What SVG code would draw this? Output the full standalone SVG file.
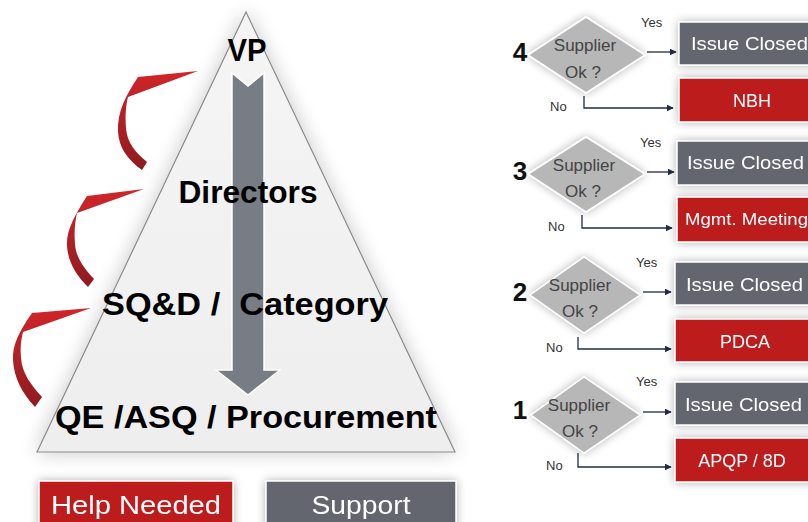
<svg xmlns="http://www.w3.org/2000/svg" width="808" height="522" viewBox="0 0 808 522">
<defs>
<style>
.big{font-family:"Liberation Sans",Arial,sans-serif;font-weight:bold;fill:#000;text-anchor:middle;white-space:pre}
.lbl{font-family:"Liberation Sans",Arial,sans-serif;fill:#fff;text-anchor:middle}
.dtxt{font-family:"Liberation Sans",Arial,sans-serif;font-size:17px;fill:#444;text-anchor:middle}
.sm{font-family:"Liberation Sans",Arial,sans-serif;font-size:13px;fill:#333}
.num{font-family:"Liberation Sans",Arial,sans-serif;font-weight:bold;font-size:26px;fill:#111;text-anchor:middle}
.gbox{fill:#63666e;stroke:#fff;stroke-width:1.5}
.rbox{fill:#bd1c1f;stroke:#fff;stroke-width:1.5}
.dia{fill:#b7b7b7;stroke:#fff;stroke-width:1.5}
.con{fill:none;stroke:#1f2b47;stroke-width:1.3}
.rib{fill:url(#redg)}
</style>
<linearGradient id="redg" x1="0" y1="0" x2="0" y2="1">
<stop offset="0" stop-color="#d0262a"/>
<stop offset="1" stop-color="#8f1b1f"/>
</linearGradient>
<linearGradient id="trig" x1="0" y1="0" x2="0" y2="1">
<stop offset="0" stop-color="#f5f5f5"/>
<stop offset="1" stop-color="#eeeeee"/>
</linearGradient>
<filter id="glow" x="-20%" y="-20%" width="140%" height="140%">
<feGaussianBlur in="SourceAlpha" stdDeviation="10"/>
<feComponentTransfer><feFuncA type="linear" slope="0.22"/></feComponentTransfer>
<feMerge><feMergeNode/><feMergeNode in="SourceGraphic"/></feMerge>
</filter>
<filter id="sh" x="-20%" y="-30%" width="140%" height="160%">
<feGaussianBlur in="SourceAlpha" stdDeviation="5"/>
<feComponentTransfer><feFuncA type="linear" slope="0.3"/></feComponentTransfer>
<feMerge><feMergeNode/><feMergeNode in="SourceGraphic"/></feMerge>
</filter>
<marker id="ah" viewBox="0 0 10 10" refX="9" refY="5" markerWidth="7" markerHeight="7" markerUnits="userSpaceOnUse" orient="auto">
<path d="M0,0 L10,5 L0,10 Z" fill="#1f2b47"/>
</marker>
</defs>
<rect width="808" height="522" fill="#fff"/>

<g id="pyramid">
<polygon points="246,12 455,452 37,452" fill="url(#trig)" stroke="#8a8a8a" stroke-width="1.2" filter="url(#glow)"/>
<polygon points="232,73 248,86 264,73 264,370 280,370 248,395 216,370 232,370" fill="#787c85" stroke="#fff" stroke-width="1.5"/>
<text class="big" x="247" y="61" font-size="31" textLength="39" lengthAdjust="spacingAndGlyphs">VP</text>
<text class="big" x="248" y="203" font-size="31" textLength="139" lengthAdjust="spacingAndGlyphs">Directors</text>
<text class="big" x="245" y="315" font-size="31" textLength="286" lengthAdjust="spacingAndGlyphs">SQ&amp;D /  Category</text>
<text class="big" x="246" y="428" font-size="31" textLength="382" lengthAdjust="spacingAndGlyphs">QE /ASQ / Procurement</text>
</g>

<g id="ribbons">
<path class="rib" d="M198,71 L138,77 C126,95 117,112 118,132 C119,148 128,160 142,170 L147,162 C136,153 127,143 126,128 C125,115 126,105 128,97 Z"/>
<path class="rib" d="M144,189 L87,196 C75,215 66,230 67,246 C68,262 76,275 88,287 L94,279 C84,268 76,258 75,244 C74,232 75,222 77,213 Z"/>
<path class="rib" d="M91,308 L32,313 C20,330 12,345 13,360 C14,378 22,393 35,407 L42,397 C31,385 22,373 21,358 C20,348 21,340 23,332 Z"/>
</g>

<g id="help-needed" filter="url(#sh)">
<rect class="rbox" x="39" y="481" width="194" height="50"/>
<text class="lbl" x="136" y="514" font-size="26" textLength="170" lengthAdjust="spacingAndGlyphs">Help Needed</text>
</g>
<g id="support" filter="url(#sh)">
<rect class="gbox" x="266" y="481" width="190" height="50"/>
<text class="lbl" x="361" y="514" font-size="26" textLength="99" lengthAdjust="spacingAndGlyphs">Support</text>
</g>

<g id="connectors">
<line class="con" x1="647" y1="52" x2="676" y2="52" marker-end="url(#ah)"/>
<polyline class="con" points="584,96 584,108 673,108" marker-end="url(#ah)"/>
<line class="con" x1="647" y1="172" x2="674" y2="172" marker-end="url(#ah)"/>
<polyline class="con" points="582,215 582,228 672,228" marker-end="url(#ah)"/>
<line class="con" x1="643" y1="292" x2="671" y2="292" marker-end="url(#ah)"/>
<polyline class="con" points="578,337 578,349 671,349" marker-end="url(#ah)"/>
<line class="con" x1="643" y1="412" x2="671" y2="412" marker-end="url(#ah)"/>
<polyline class="con" points="578,453 578,467 671,467" marker-end="url(#ah)"/>
</g>

<g id="row4">
<polygon class="dia" points="528,55 586,17 645,55 586,93" filter="url(#sh)"/>
<text class="dtxt" x="585" y="51">Supplier</text>
<text class="dtxt" x="583" y="78">Ok ?</text>
<text class="num" x="520" y="61">4</text>
<text class="sm" x="641" y="27">Yes</text>
<text class="sm" x="550" y="111">No</text>
<g id="r4-closed" filter="url(#sh)"><rect class="gbox" x="679" y="22" width="145" height="43"/>
<text class="lbl" x="691" y="50" font-size="19" style="text-anchor:start" textLength="117" lengthAdjust="spacingAndGlyphs">Issue Closed</text></g>
<g id="r4-nbh" filter="url(#sh)"><rect class="rbox" x="679" y="78" width="146" height="44"/>
<text class="lbl" x="752" y="107" font-size="18">NBH</text></g>
</g>

<g id="row3">
<polygon class="dia" points="528,174 586,137 645,174 586,212" filter="url(#sh)"/>
<text class="dtxt" x="584" y="171">Supplier</text>
<text class="dtxt" x="583" y="197">Ok ?</text>
<text class="num" x="520" y="180">3</text>
<text class="sm" x="640" y="147">Yes</text>
<text class="sm" x="548" y="231">No</text>
<g id="r3-closed" filter="url(#sh)"><rect class="gbox" x="677" y="141" width="145" height="44"/>
<text class="lbl" x="687" y="169" font-size="19" style="text-anchor:start" textLength="117" lengthAdjust="spacingAndGlyphs">Issue Closed</text></g>
<g id="r3-mgmt" filter="url(#sh)"><rect class="rbox" x="677" y="197" width="145" height="45"/>
<text class="lbl" x="685" y="225" font-size="17" style="text-anchor:start" textLength="123" lengthAdjust="spacingAndGlyphs">Mgmt. Meeting</text></g>
</g>

<g id="row2">
<polygon class="dia" points="530,295 584,257 640,295 584,333" filter="url(#sh)"/>
<text class="dtxt" x="580" y="291">Supplier</text>
<text class="dtxt" x="580" y="317">Ok ?</text>
<text class="num" x="520" y="301">2</text>
<text class="sm" x="636" y="267">Yes</text>
<text class="sm" x="546" y="352">No</text>
<g id="r2-closed" filter="url(#sh)"><rect class="gbox" x="675" y="262" width="145" height="43"/>
<text class="lbl" x="686" y="291" font-size="19" style="text-anchor:start" textLength="117" lengthAdjust="spacingAndGlyphs">Issue Closed</text></g>
<g id="r2-pdca" filter="url(#sh)"><rect class="rbox" x="675" y="319" width="140" height="43"/>
<text class="lbl" x="745" y="348" font-size="18">PDCA</text></g>
</g>

<g id="row1">
<polygon class="dia" points="531,415 584,377 640,415 584,453" filter="url(#sh)"/>
<text class="dtxt" x="579" y="411">Supplier</text>
<text class="dtxt" x="580" y="437">Ok ?</text>
<text class="num" x="520" y="419">1</text>
<text class="sm" x="636" y="386">Yes</text>
<text class="sm" x="546" y="470">No</text>
<g id="r1-closed" filter="url(#sh)"><rect class="gbox" x="675" y="382" width="145" height="43"/>
<text class="lbl" x="685" y="411" font-size="19" style="text-anchor:start" textLength="117" lengthAdjust="spacingAndGlyphs">Issue Closed</text></g>
<g id="r1-apqp" filter="url(#sh)"><rect class="rbox" x="675" y="438" width="140" height="44"/>
<text class="lbl" x="742" y="467" font-size="18">APQP / 8D</text></g>
</g>
</svg>
